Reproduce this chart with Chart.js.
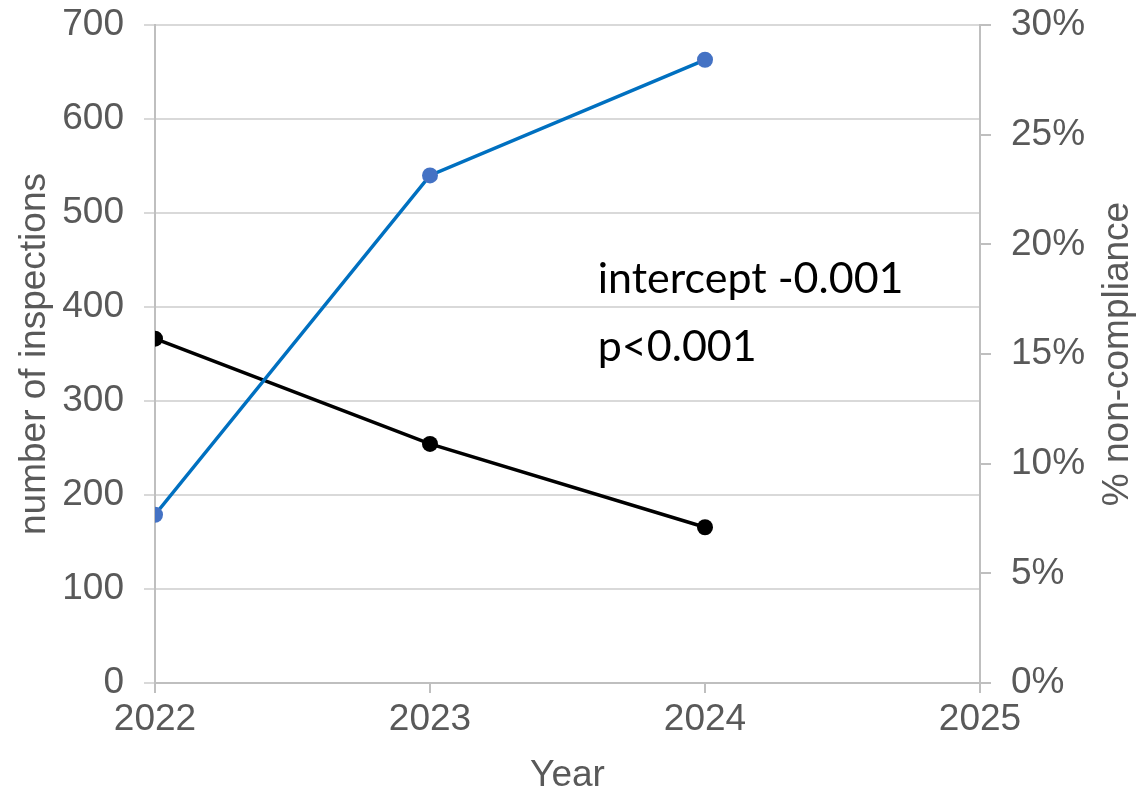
<!DOCTYPE html>
<html>
<head>
<meta charset="utf-8">
<script src="https://cdn.jsdelivr.net/npm/chart.js@4.4.1/dist/chart.umd.min.js"></script>
<style>
  html, body { margin: 0; padding: 0; background: #fff; }
  #wrap { width: 1139px; height: 793px; }
</style>
</head>
<body>
<div id="wrap"><canvas id="c" width="1139" height="793"></canvas></div>
<script>
const years = [2022, 2023, 2024];
const inspections = [179, 540, 663];
const nonCompliance = [15.7, 10.9, 7.1];
const xTicks = [2022, 2023, 2024, 2025];
const annotationLines = ['intercept -0.001', 'p<0.001'];
const rightTitle = '% non-compliance';

const TXT = '#595959';
const AXIS = '#BFBFBF';
const GRID = '#D9D9D9';
const FONT_FAMILY = "'Liberation Sans', Arial, sans-serif";
const tickFont = { family: FONT_FAMILY, size: 37 };

const annotationPlugin = {
  id: 'annot',
  afterDatasetsDraw(chart) {
    const ctx = chart.ctx;
    const ca = chart.chartArea;
    const x = chart.scales.x.getPixelForValue(2023.61);
    const y0 = chart.scales.y.getPixelForValue(415);
    const y1 = chart.scales.y.getPixelForValue(343);
    ctx.save();
    ctx.fillStyle = '#000';
    ctx.font = "43px Lato, 'Open Sans', sans-serif";
    ctx.textAlign = 'left';
    ctx.textBaseline = 'alphabetic';
    ctx.fillText(annotationLines[0], x, y0);
    ctx.fillText(annotationLines[1], x, y1);
    ctx.restore();

    // right axis title, reading bottom-to-top
    ctx.save();
    ctx.fillStyle = TXT;
    ctx.font = tickFont.size + 'px ' + FONT_FAMILY;
    ctx.textAlign = 'center';
    ctx.textBaseline = 'middle';
    ctx.translate(chart.width - 21, (ca.top + ca.bottom) / 2);
    ctx.rotate(-Math.PI / 2);
    ctx.fillText(rightTitle, 0, 0);
    ctx.restore();
  }
};

new Chart(document.getElementById('c'), {
  type: 'line',
  data: {
    datasets: [
      {
        label: 'number of inspections',
        data: years.map((yr, i) => ({ x: yr, y: inspections[i] })),
        yAxisID: 'y',
        borderColor: '#0070C0',
        backgroundColor: '#4472C4',
        pointBackgroundColor: '#4472C4',
        pointBorderWidth: 0,
        pointRadius: 8,
        borderWidth: 3.5,
        tension: 0
      },
      {
        label: '% non-compliance',
        data: years.map((yr, i) => ({ x: yr, y: nonCompliance[i] })),
        yAxisID: 'y2',
        borderColor: '#000000',
        backgroundColor: '#000000',
        pointBackgroundColor: '#000000',
        pointBorderWidth: 0,
        pointRadius: 8,
        borderWidth: 3.5,
        tension: 0
      }
    ]
  },
  options: {
    responsive: false,
    animation: false,
    devicePixelRatio: 1,
    layout: { padding: { top: 25, right: 0, left: 0, bottom: 0 } },
    plugins: { legend: { display: false }, tooltip: { enabled: false } },
    scales: {
      x: {
        type: 'linear',
        min: 2022, max: 2025,
        afterBuildTicks: s => { s.ticks = xTicks.map(v => ({ value: v })); },
        afterFit: s => { s.height = 110; s.paddingLeft = 0; s.paddingRight = 0; },
        ticks: { color: TXT, font: tickFont, padding: 5, maxRotation: 0, callback: v => String(v) },
        grid: { drawOnChartArea: false, drawTicks: true, tickLength: 10, color: AXIS, lineWidth: 2 },
        border: { display: true, color: AXIS, width: 2 },
        title: { display: true, text: 'Year', color: TXT, font: tickFont, padding: { top: 0, bottom: -5 } }
      },
      y: {
        position: 'left',
        min: 0, max: 700,
        afterFit: s => { s.width = 155; s.paddingTop = 0; s.paddingBottom = 0; },
        ticks: { stepSize: 100, color: TXT, font: tickFont, padding: 20 },
        grid: { color: GRID, lineWidth: 2, tickLength: 11, drawTicks: true },
        border: { display: true, color: AXIS, width: 2 },
        title: { display: true, text: 'number of inspections', color: TXT, font: tickFont, padding: { top: 13, bottom: 0 } }
      },
      y2: {
        position: 'right',
        min: 0, max: 30,
        afterFit: s => { s.width = 159; s.paddingTop = 0; s.paddingBottom = 0; },
        ticks: { stepSize: 5, color: TXT, font: tickFont, padding: 20, callback: v => v + '%' },
        grid: { drawOnChartArea: false, color: AXIS, lineWidth: 2, tickLength: 11, drawTicks: true },
        border: { display: true, color: AXIS, width: 2 },
        title: { display: false }
      }
    }
  },
  plugins: [annotationPlugin]
});
</script>
</body>
</html>
